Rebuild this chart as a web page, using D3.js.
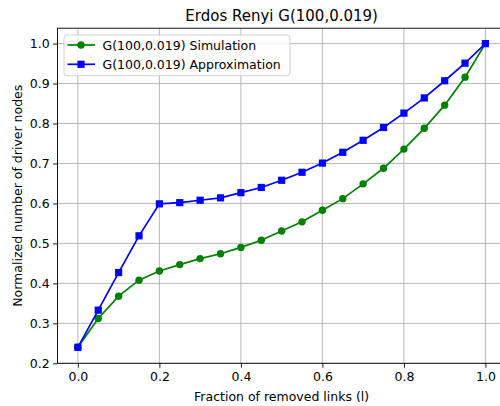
<!DOCTYPE html>
<html><head><meta charset="utf-8">
<script src="https://cdn.jsdelivr.net/npm/d3@7"></script>
<style>body{margin:0;background:#fff}svg{display:block}text{font-family:"DejaVu Sans",sans-serif;fill:#000}</style>
</head><body>
<script>
const xValues = [0,0.05,0.1,0.15,0.2,0.25,0.3,0.35,0.4,0.45,0.5,0.55,0.6,0.65,0.7,0.75,0.8,0.85,0.9,0.95,1.0];
const simulation = [0.240,0.312,0.368,0.408,0.431,0.447,0.462,0.474,0.490,0.508,0.531,0.554,0.583,0.612,0.649,0.688,0.736,0.788,0.846,0.916,1.0];
const approximation = [0.240,0.333,0.427,0.519,0.599,0.602,0.608,0.614,0.627,0.640,0.658,0.678,0.701,0.728,0.758,0.790,0.826,0.864,0.907,0.951,1.0];
const xTicks = [0,0.2,0.4,0.6,0.8,1.0];
const yTicks = [0.2,0.3,0.4,0.5,0.6,0.7,0.8,0.9,1.0];
const seriesNames = ["G(100,0.019) Simulation","G(100,0.019) Approximation"];
const title = "Erdos Renyi G(100,0.019)";
const xLabel = "Fraction of removed links (l)";
const yLabel = "Normalized number of driver nodes";

const W=500,H=406,FS="12.5px";
const L=57.5,R=505.8,T=28.2,B=363.3;
const svg=d3.select("body").append("svg").attr("width",W).attr("height",H);
const x=d3.scaleLinear().domain([-0.05,1.05]).range([L,R]);
const y=d3.scaleLinear().domain([0.2,1.0385]).range([B,T]);

// grid
const g=svg.append("g");
g.selectAll(".gx").data(xTicks).enter().append("line")
 .attr("x1",d=>x(d)).attr("x2",d=>x(d)).attr("y1",T).attr("y2",B)
 .attr("stroke","#b0b0b0").attr("stroke-width",0.9);
g.selectAll(".gy").data(yTicks).enter().append("line")
 .attr("x1",L).attr("x2",R).attr("y1",d=>y(d)).attr("y2",d=>y(d))
 .attr("stroke","#b0b0b0").attr("stroke-width",0.9);

// axes
const xAxis=d3.axisBottom(x).tickValues(xTicks).tickFormat(d3.format(".1f")).tickSizeOuter(0).tickSize(4.4).tickPadding(4.6);
const yAxis=d3.axisLeft(y).tickValues(yTicks).tickFormat(d3.format(".1f")).tickSizeOuter(0).tickSize(4.4).tickPadding(3.4);
const ax=svg.append("g").attr("transform",`translate(0,${B})`).call(xAxis);
const ay=svg.append("g").attr("transform",`translate(${L},0)`).call(yAxis);
[ax,ay].forEach(a=>{a.select(".domain").remove();a.selectAll("text").style("font-size",FS).style("font-family","DejaVu Sans").attr("fill","#000");a.selectAll("line").attr("stroke","#000").attr("stroke-width",0.9);});
// spines
svg.append("rect").attr("x",L).attr("y",T).attr("width",R-L).attr("height",B-T).attr("fill","none").attr("stroke","#000").attr("stroke-width",0.9);

// series
const series=[{vals:simulation,color:"#008000",shape:"circle"},{vals:approximation,color:"#0000ff",shape:"square"}];
const line=d3.line().x(d=>x(d[0])).y(d=>y(d[1]));
series.forEach(s=>{
  const pts=xValues.map((v,i)=>[v,s.vals[i]]);
  svg.append("path").datum(pts).attr("d",line).attr("fill","none").attr("stroke",s.color).attr("stroke-width",1.7);
  if(s.shape==="circle"){
    svg.selectAll(null).data(pts).enter().append("circle").attr("cx",d=>x(d[0])).attr("cy",d=>y(d[1])).attr("r",3.7).attr("fill",s.color);
  } else {
    svg.selectAll(null).data(pts).enter().append("rect").attr("x",d=>x(d[0])-3.6).attr("y",d=>y(d[1])-3.6).attr("width",7.2).attr("height",7.2).attr("fill",s.color);
  }
});

// legend
const lg=svg.append("g");
lg.append("rect").attr("x",64).attr("y",35).attr("width",226).attr("height",40.7).attr("rx",3)
 .attr("fill","#fff").attr("fill-opacity",0.8).attr("stroke","#ccc").attr("stroke-width",0.9);
series.forEach((s,i)=>{
  const cy=45+i*19.3;
  lg.append("line").attr("x1",67.5).attr("x2",95).attr("y1",cy).attr("y2",cy).attr("stroke",s.color).attr("stroke-width",1.7);
  if(s.shape==="circle") lg.append("circle").attr("cx",81).attr("cy",cy).attr("r",3.7).attr("fill",s.color);
  else lg.append("rect").attr("x",81-3.6).attr("y",cy-3.6).attr("width",7.2).attr("height",7.2).attr("fill",s.color);
  lg.append("text").attr("x",102.5).attr("y",cy+4.9).style("font-size",FS).text(seriesNames[i]);
});

// title & labels
svg.append("text").attr("x",(L+R)/2).attr("y",21).attr("text-anchor","middle").style("font-size","15px").text(title);
svg.append("text").attr("x",(L+R)/2).attr("y",400.5).attr("text-anchor","middle").style("font-size",FS).text(xLabel);
svg.append("text").attr("transform",`translate(22,${(T+B)/2}) rotate(-90)`).attr("text-anchor","middle").style("font-size",FS).text(yLabel);
</script>
</body></html>
